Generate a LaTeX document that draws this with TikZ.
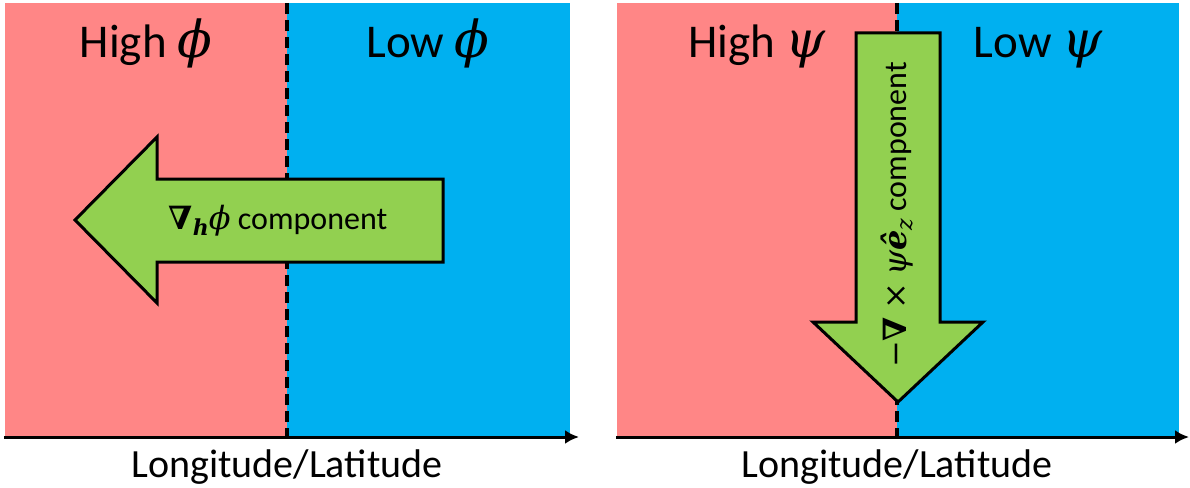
\documentclass[tikz,border=0pt]{standalone}
\usepackage{fontspec}
\setmainfont{Carlito}
\newfontfamily\gk{DejaVu Serif}
\usetikzlibrary{arrows.meta}
\definecolor{hipink}{RGB}{255,134,134}
\definecolor{loblue}{RGB}{0,176,240}
\definecolor{arrgreen}{RGB}{146,208,80}
\newcommand{\lowsub}[1]{\raisebox{-6pt}{\fontsize{22}{22}\selectfont #1}}
\newcommand{\tgreek}[1]{{\fontsize{51}{56}\selectfont\gk\itshape #1}}
\tikzset{
  divider/.style={line width=3.2pt, dash pattern=on 11pt off 6pt, black},
  bigarrow/.style={draw=black, line width=3pt, fill=arrgreen, line join=miter},
  axisline/.style={line width=3pt, -{Latex[length=14pt,width=14pt]}},
  title/.style={anchor=base, inner sep=0pt, font=\fontsize{47}{56}\selectfont},
  axlabel/.style={anchor=base, inner sep=0pt, font=\fontsize{40}{48}\selectfont},
  arrlabel/.style={inner sep=0pt, font=\fontsize{32}{38}\selectfont}
}
\begin{document}
\begin{tikzpicture}[x=1pt,y=-1pt]
\useasboundingbox (0,0) rectangle (1190,487);
% ---------- left panel ----------
\fill[hipink] (5,3) rectangle (287,437);
\fill[loblue] (287,3) rectangle (570,437);
\coordinate (ltop) at (287,3);
\coordinate (lbot) at (287,437);
\draw[divider] (ltop) -- (lbot);
\draw[bigarrow] (75,220) -- (157,137) -- (157,179) -- (443,179) -- (443,262) -- (157,262) -- (157,303) -- cycle;
\node[arrlabel] (lab1) at (278,221) {{\gk\bfseries ∇}\lowsub{\gk\bfseries\itshape h}{\gk\itshape ϕ} component};
\node[title] (hiphi) at (146,57) {High \tgreek{ϕ}};
\node[title] (lophi) at (428,57) {Low \tgreek{ϕ}};
\coordinate (lax0) at (4,437);
\coordinate (lax1) at (579,437);
\draw[axisline] (lax0) -- (lax1);
\node[axlabel] (lxl) at (287,477) {Longitude/Latitude};
% ---------- right panel ----------
\fill[hipink] (617,3) rectangle (897,437);
\fill[loblue] (897,3) rectangle (1179,437);
\coordinate (rtop) at (897,3);
\coordinate (rbot) at (897,437);
\draw[divider] (rtop) -- (rbot);
\draw[bigarrow] (856,33) -- (940,33) -- (940,322) -- (983,322) -- (898,402) -- (813,322) -- (856,322) -- cycle;
\node[arrlabel, rotate=90] (lab2) at (897,215) {{\gk −}{\gk\bfseries ∇} {\gk ×} {\gk\itshape ψ}{\gk\bfseries\itshape ê}\lowsub{\gk\itshape z} component};
\node[title] (hipsi) at (757,57) {High \tgreek{ψ}};
\node[title] (lopsi) at (1038,57) {Low \tgreek{ψ}};
\coordinate (rax0) at (616,437);
\coordinate (rax1) at (1189,437);
\draw[axisline] (rax0) -- (rax1);
\node[axlabel] (rxl) at (897,477) {Longitude/Latitude};
\end{tikzpicture}
\end{document}
